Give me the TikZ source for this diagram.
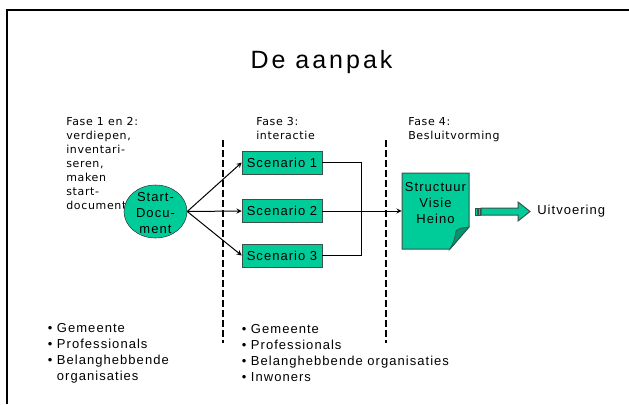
\documentclass[tikz,border=0pt]{standalone}
\usepackage{fontspec}
\usepackage{tkz-euclide}
\usetikzlibrary{shapes.geometric}
\setmainfont{Liberation Sans}[LetterSpace=8]
\newfontfamily\fasefont{DejaVu Sans}[LetterSpace=6]
\definecolor{groen}{RGB}{0,204,153}
\definecolor{donkergroen}{RGB}{0,150,112}
\definecolor{rand}{RGB}{60,80,72}
\tikzset{>=stealth,
  tekst/.style={font=\fontsize{9.75}{12}\selectfont, inner sep=0pt},
  fase/.style={font=\fasefont\fontsize{8.25}{10.5}\selectfont, align=left, anchor=north west, inner sep=0pt},
  scenario/.style={tekst, draw=rand, fill=groen, minimum width=60pt, minimum height=17pt},
  grens/.style={dash pattern=on 5pt off 2.5pt, line width=1.5pt},
  pijl/.style={->, line width=0.75pt}}

\begin{document}
\begin{tikzpicture}[x=0.75pt,y=-0.75pt]
    \useasboundingbox (0,0) rectangle (629,404);
    \tkzDefPoints{7/404/LO, 7/10/LB, 629/10/RB, 223/140/A1, 223/343/A2, 386/140/B1, 386/343/B2, 361/211/M}
    \tkzDefPoints{402/173/D1, 469/173/D2, 469/227/D3, 450/249/D4, 402/249/D5}
    \draw[line width=1.5pt] (LO) -- (LB) -- (RB);
    \node[font=\fontsize{18.75}{22}\selectfont\addfontfeature{LetterSpace=12}, inner sep=0pt, anchor=base] (titel) at (321.5,68) {De aanpak};
    \node[fase] (fase12) at (66,117) {Fase 1 en 2:\\verdiepen,\\inventari-\\seren,\\maken\\start-\\document};
    \node[fase] (fase3) at (256,117) {Fase 3:\\interactie};
    \node[fase] (fase4) at (408,117) {Fase 4:\\Besluitvorming};
    \draw[grens] (A1) -- (A2);
    \draw[grens] (B1) -- (B2);
    \node[ellipse, draw=black!80, fill=groen, minimum width=47.25pt, minimum height=39.75pt, inner sep=0pt,
      label={[tekst, align=center, yshift=-1pt]center:{Start-\\Docu-\\ment}}] (start) at (155.5,211.5) {};
    \node[scenario] (s1) at (282,162.5) {Scenario 1};
    \node[scenario] (s2) at (282,211) {Scenario 2};
    \node[scenario] (s3) at (282,255.5) {Scenario 3};
    \filldraw[draw=rand, fill=groen, line width=0.75pt] (D1) -- (D2) -- (D3) -- (D4) -- (D5) -- cycle;
    \filldraw[draw=rand, fill=donkergroen, line width=0.5pt] (D3) .. controls (463,228) and (458,228) .. (456,231)
      .. controls (455,238) and (453,244) .. (D4) -- cycle;
    \node[tekst, align=center, minimum width=50.25pt] (doc) at (435.5,203.5) {Structuur\\Visie\\Heino};
    \draw[pijl] (start.east) -- (s1.west);
    \draw[pijl] (start.east) -- (s2.west);
    \draw[pijl] (start.east) -- (s3.west);
    \draw[line width=0.75pt] (s1.east) -| (M);
    \draw[line width=0.75pt] (s3.east) -| (M);
    \draw[pijl] (s2.east) -- (s2.east -| doc.west);
    \filldraw[draw=rand, fill=groen, line width=0.5pt] (475,208) rectangle (477,215) (478,208) rectangle (480,215);
    \filldraw[draw=rand, fill=groen, line width=0.75pt] (481,208) -- (518,208) -- (518,202) -- (530,211.5)
      -- (518,221) -- (518,215) -- (481,215) -- cycle;
    \node[tekst, anchor=west] (uitv) at (537,211) {Uitvoering};
    \node[tekst, align=left, anchor=north west] (lijst1) at (47.5,323) {• Gemeente\\• Professionals\\• Belanghebbende\\\phantom{• }organisaties};
    \node[tekst, align=left, anchor=north west] (lijst2) at (241.5,324) {• Gemeente\\• Professionals\\• Belanghebbende organisaties\\• Inwoners};
\end{tikzpicture}
\end{document}
